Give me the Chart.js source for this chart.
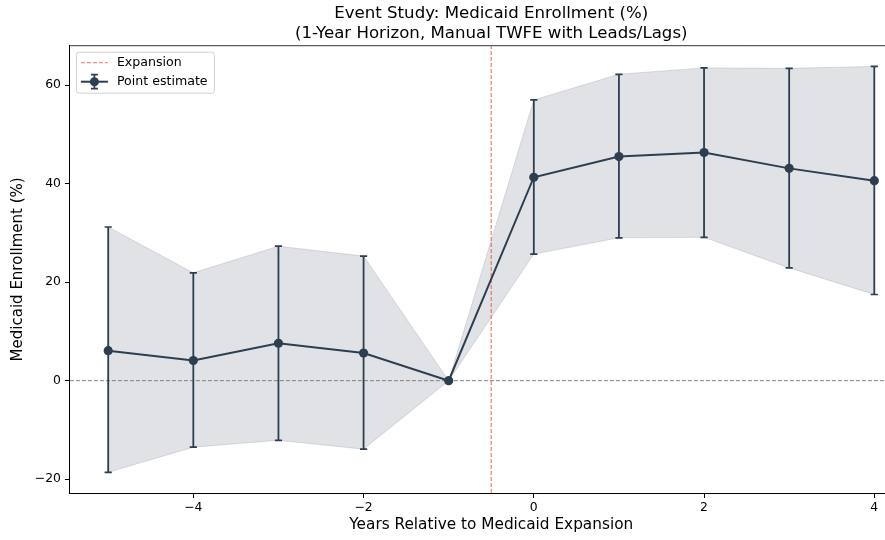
<!DOCTYPE html>
<html>
<head>
<meta charset="utf-8">
<script src="https://cdn.jsdelivr.net/npm/chart.js@4"></script>
<style>
  html, body { margin: 0; padding: 0; background: #fff; overflow: hidden; }
  #wrap { width: 930px; height: 540px; }
</style>
</head>
<body>
<div id="wrap"><canvas id="chart" width="930" height="540"></canvas></div>
<script>
// values
const years = [-5, -4, -3, -2, -1, 0, 1, 2, 3, 4]
const estimate = [6.1, 4.1, 7.6, 5.6, 0, 41.3, 45.5, 46.3, 43.1, 40.6]
const ciUpper = [31.2, 21.9, 27.3, 25.3, 0, 57.0, 62.2, 63.5, 63.4, 63.8]
const ciLower = [-18.6, -13.5, -12.1, -13.9, 0, 25.7, 29.0, 29.1, 22.9, 17.5]
const xTicks = [-4, -2, 0, 2, 4]
const yTicks = [-20, 0, 20, 40, 60]
const expansionAt = -0.5

const xMin = -5.45, xMax = 4.45
const yMin = -22.8, yMax = 68

const navy = '#2c3e50'
const band = 'rgba(44,62,80,0.15)'
const red = 'rgba(231,76,60,0.62)'
const font = 'DejaVu Sans'

Chart.defaults.font.family = font
Chart.defaults.color = '#000'

let ctx = document.getElementById('chart')

function pts(arr) {
    return years.map((x, i) => ({ x: x, y: arr[i] }))
}

// vertical error bar segments, broken with nulls
let barSegs = []
years.forEach((x, i) => {
    barSegs.push({ x: x, y: ciLower[i] })
    barSegs.push({ x: x, y: ciUpper[i] })
    barSegs.push({ x: x, y: null })
})
let caps = []
years.forEach((x, i) => {
    if (ciUpper[i] !== ciLower[i]) {
        caps.push({ x: x, y: ciLower[i] })
        caps.push({ x: x, y: ciUpper[i] })
    }
})

function minus(v) {
    return v < 0 ? '\u2212' + Math.abs(v) : String(v)
}

const extras = {
    id: 'extras',
    afterDraw(chart) {
        const c = chart.ctx
        const a = chart.chartArea
        // top spine
        c.save()
        c.strokeStyle = '#333'
        c.lineWidth = 1
        c.beginPath()
        c.moveTo(a.left, a.top)
        c.lineTo(a.right, a.top)
        c.stroke()

        // legend box
        const bx = a.left + 6, by = a.top + 6, bw = 138, bh = 41
        c.fillStyle = 'rgba(255,255,255,0.8)'
        c.strokeStyle = '#d0d0d0'
        c.lineWidth = 1
        c.beginPath()
        c.roundRect(bx + 0.5, by + 0.5, bw, bh, 3)
        c.fill()
        c.stroke()

        // Expansion sample
        const y1 = by + 11, y2 = by + 30
        c.strokeStyle = red
        c.lineWidth = 1.3
        c.setLineDash([4, 2])
        c.beginPath()
        c.moveTo(bx + 5, y1)
        c.lineTo(bx + 32, y1)
        c.stroke()
        c.setLineDash([])

        // Point estimate sample
        const cx = bx + 18.5
        c.strokeStyle = navy
        c.lineWidth = 2
        c.beginPath()
        c.moveTo(bx + 5, y2)
        c.lineTo(bx + 32, y2)
        c.stroke()
        c.lineWidth = 1.7
        c.beginPath()
        c.moveTo(cx, y2 - 7)
        c.lineTo(cx, y2 + 7)
        c.moveTo(cx - 3.5, y2 - 7)
        c.lineTo(cx + 3.5, y2 - 7)
        c.moveTo(cx - 3.5, y2 + 7)
        c.lineTo(cx + 3.5, y2 + 7)
        c.stroke()
        c.fillStyle = navy
        c.beginPath()
        c.arc(cx, y2, 4.5, 0, Math.PI * 2)
        c.fill()

        c.fillStyle = '#000'
        c.font = '12.6px "' + font + '"'
        c.textBaseline = 'middle'
        c.fillText('Expansion', bx + 41, y1)
        c.fillText('Point estimate', bx + 41, y2)
        c.restore()
    }
}

new Chart(ctx, {
    type: 'scatter',
    data: {
        datasets: [
            {
                data: pts(ciUpper),
                showLine: true,
                borderColor: band,
                borderWidth: 1,
                backgroundColor: band,
                pointRadius: 0,
                fill: '+1',
                order: 6
            },
            {
                data: pts(ciLower),
                showLine: true,
                borderColor: band,
                borderWidth: 1,
                pointRadius: 0,
                fill: false,
                order: 6
            },
            {
                data: [{ x: xMin, y: 0 }, { x: xMax, y: 0 }],
                showLine: true,
                borderColor: '#808080',
                borderWidth: 1,
                borderDash: [4, 2],
                pointRadius: 0,
                order: 5
            },
            {
                data: [{ x: expansionAt, y: yMin }, { x: expansionAt, y: yMax }],
                showLine: true,
                borderColor: red,
                borderWidth: 1.4,
                borderDash: [4, 2],
                pointRadius: 0,
                order: 5
            },
            {
                data: barSegs,
                showLine: true,
                spanGaps: false,
                borderColor: navy,
                borderWidth: 1.8,
                pointRadius: 0,
                order: 3
            },
            {
                data: caps,
                pointStyle: 'line',
                pointRadius: 3.6,
                borderColor: navy,
                borderWidth: 1.7,
                order: 3
            },
            {
                data: pts(estimate),
                showLine: true,
                borderColor: navy,
                borderWidth: 2,
                backgroundColor: navy,
                pointBackgroundColor: navy,
                pointBorderWidth: 0,
                pointRadius: 4.6,
                order: 1
            }
        ]
    },
    options: {
        responsive: false,
        animation: false,
        devicePixelRatio: 1,
        layout: { padding: { left: 0, right: 17.4, top: 0, bottom: 0 } },
        plugins: {
            legend: { display: false },
            tooltip: { enabled: false },
            title: {
                display: true,
                fullSize: false,
                text: ['Event Study: Medicaid Enrollment (%)', '(1-Year Horizon, Manual TWFE with Leads/Lags)'],
                color: '#000',
                font: { size: 16.6, weight: 'normal', lineHeight: 1.16 },
                padding: { top: 4.4, bottom: 2.8 }
            }
        },
        scales: {
            x: {
                type: 'linear',
                min: xMin,
                max: xMax,
                afterBuildTicks: (s) => { s.ticks = xTicks.map(v => ({ value: v })) },
                afterFit: (s) => { s.height = 47 },
                grid: { display: true, drawOnChartArea: false, drawTicks: true, tickLength: 5, color: '#000' },
                border: { display: true, color: '#000', width: 1 },
                ticks: { font: { size: 12.4 }, color: '#000', padding: 2, maxRotation: 0, callback: minus },
                title: {
                    display: true,
                    text: 'Years Relative to Medicaid Expansion',
                    font: { size: 15.3 },
                    color: '#000',
                    padding: { top: 0, bottom: 6 }
                }
            },
            y: {
                type: 'linear',
                min: yMin,
                max: yMax,
                afterBuildTicks: (s) => { s.ticks = yTicks.map(v => ({ value: v })) },
                afterFit: (s) => { s.width = 69.9 },
                grid: { display: true, drawOnChartArea: false, drawTicks: true, tickLength: 5, color: '#000' },
                border: { display: true, color: '#000', width: 1 },
                ticks: { font: { size: 12.4 }, color: '#000', padding: 4, callback: minus },
                title: {
                    display: true,
                    text: 'Medicaid Enrollment (%)',
                    font: { size: 15 },
                    color: '#000',
                    padding: { top: 9, bottom: 0 }
                }
            }
        }
    },
    plugins: [extras]
})
</script>
</body>
</html>
